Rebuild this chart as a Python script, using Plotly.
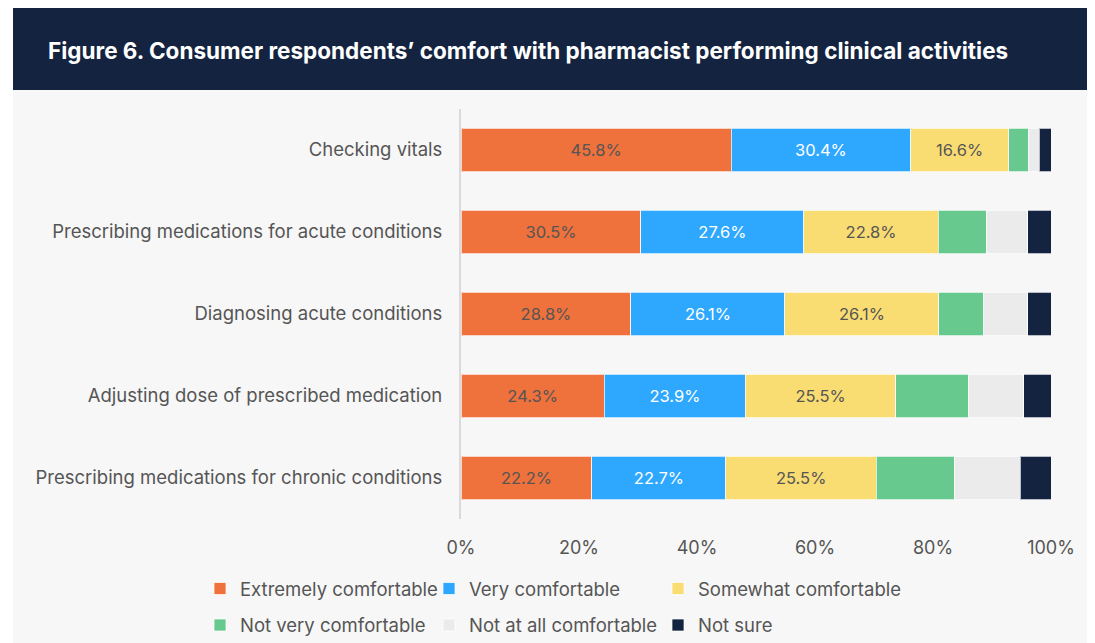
import plotly.graph_objects as go

categories = [
    "Checking vitals",
    "Prescribing medications for acute conditions",
    "Diagnosing acute conditions",
    "Adjusting dose of prescribed medication",
    "Prescribing medications for chronic conditions",
]
series_names = [
    "Extremely comfortable",
    "Very comfortable",
    "Somewhat comfortable",
    "Not very comfortable",
    "Not at all comfortable",
    "Not sure",
]
extremely = [45.8, 30.5, 28.8, 24.3, 22.2]
very = [30.4, 27.6, 26.1, 23.9, 22.7]
somewhat = [16.6, 22.8, 26.1, 25.5, 25.5]
not_very = [3.4, 8.1, 7.6, 12.4, 13.2]
not_at_all = [1.8, 7.1, 7.5, 9.3, 11.2]
not_sure = [2.0, 3.9, 3.9, 4.6, 5.2]
x_ticks = [0, 20, 40, 60, 80, 100]
x_tick_labels = ["0%", "20%", "40%", "60%", "80%", "100%"]
title_text = "Figure 6. Consumer respondents’ comfort with pharmacist performing clinical activities"

values = [extremely, very, somewhat, not_very, not_at_all, not_sure]
colors = ["#EF713C", "#2EA8FF", "#F9DC72", "#68C98E", "#EBEBEB", "#14233F"]
label_colors = ["#555555", "#FFFFFF", "#555555", None, None, None]
show_labels = [True, True, True, False, False, False]

FONT = "Inter"
# page body has an 8px margin; work in reference-pixel coords and subtract it
OFF = 8
W, H = 1095 - OFF, 643 - OFF
L = 461 - OFF
R = W - (1051 - OFF)
T = 109 - OFF
B = H - (519 - OFF)
pw, ph = W - L - R, H - T - B

def px_x(p):
    return (p - OFF - L) / pw

def px_y(p):
    return (H - B - (p - OFF)) / ph

# legend grid (reference pixel positions of each entry's text start / row centre)
legend_cols = [238, 467, 696]
legend_rows = [589, 625.5]

fig = go.Figure()
legend_layouts = {}
for i, (name, vals, col, lc, sl) in enumerate(zip(series_names, values, colors, label_colors, show_labels)):
    lid = "legend" if i == 0 else f"legend{i + 1}"
    fig.add_trace(go.Bar(
        y=categories, x=vals, name=name, orientation="h",
        marker=dict(color=col, line=dict(color="rgba(255,255,255,0.7)", width=1)),
        text=[f"{v:.1f}%" for v in vals] if sl else None,
        textposition="inside" if sl else "none",
        insidetextanchor="middle", textangle=0,
        insidetextfont=dict(family=FONT, size=16.5, color=lc if lc else "#555"),
        legend=lid, showlegend=True, hoverinfo="x+y+name",
    ))
    cx = legend_cols[i % 3] - OFF - 38
    cy = legend_rows[i // 3] - OFF
    legend_layouts[lid] = dict(
        orientation="h", xref="container", yref="container",
        x=cx / W, y=1 - cy / H, xanchor="left", yanchor="middle",
        bgcolor="rgba(0,0,0,0)", font=dict(family=FONT, size=18.5, color="#555555"),
        itemwidth=30, itemclick=False, itemdoubleclick=False,
    )

shapes = [
    dict(type="rect", xref="paper", yref="paper", x0=px_x(13), x1=px_x(1088),
         y0=px_y(90), y1=px_y(660), fillcolor="#F7F7F7", line=dict(width=0), layer="below"),
    dict(type="rect", xref="paper", yref="paper", x0=px_x(13), x1=px_x(1088),
         y0=px_y(8), y1=px_y(90), fillcolor="#14233F", line=dict(width=0), layer="below"),
]

fig.update_layout(
    width=W, height=H,
    margin=dict(l=L, r=R, t=T, b=B, autoexpand=False),
    barmode="stack", bargap=0.475,
    showlegend=True,
    paper_bgcolor="white", plot_bgcolor="rgba(0,0,0,0)",
    font=dict(family=FONT, color="#555555", size=18),
    shapes=shapes,
    title=dict(text=title_text, x=(48 - OFF) / W, xref="container", xanchor="left",
               y=1 - (51 - OFF) / H, yref="container", yanchor="middle",
               font=dict(family=FONT, size=22.5, color="white", weight="bold")),
    xaxis=dict(range=[0, 100], tickvals=x_ticks, ticktext=x_tick_labels,
               showgrid=False, zeroline=False, showline=False,
               tickfont=dict(family=FONT, size=18, color="#555555"),
               ticks="", ticklabelstandoff=16, fixedrange=True),
    yaxis=dict(range=[4.5, -0.5], categoryorder="array", categoryarray=categories,
               showgrid=False, zeroline=False, showline=True, linecolor="#DADADA", linewidth=2,
               ticks="", ticklabelstandoff=13,
               tickfont=dict(family=FONT, size=18.5, color="#555555"), fixedrange=True),
    uniformtext=dict(minsize=10, mode="show"),
    **legend_layouts,
)

fig.write_html("out.html")
